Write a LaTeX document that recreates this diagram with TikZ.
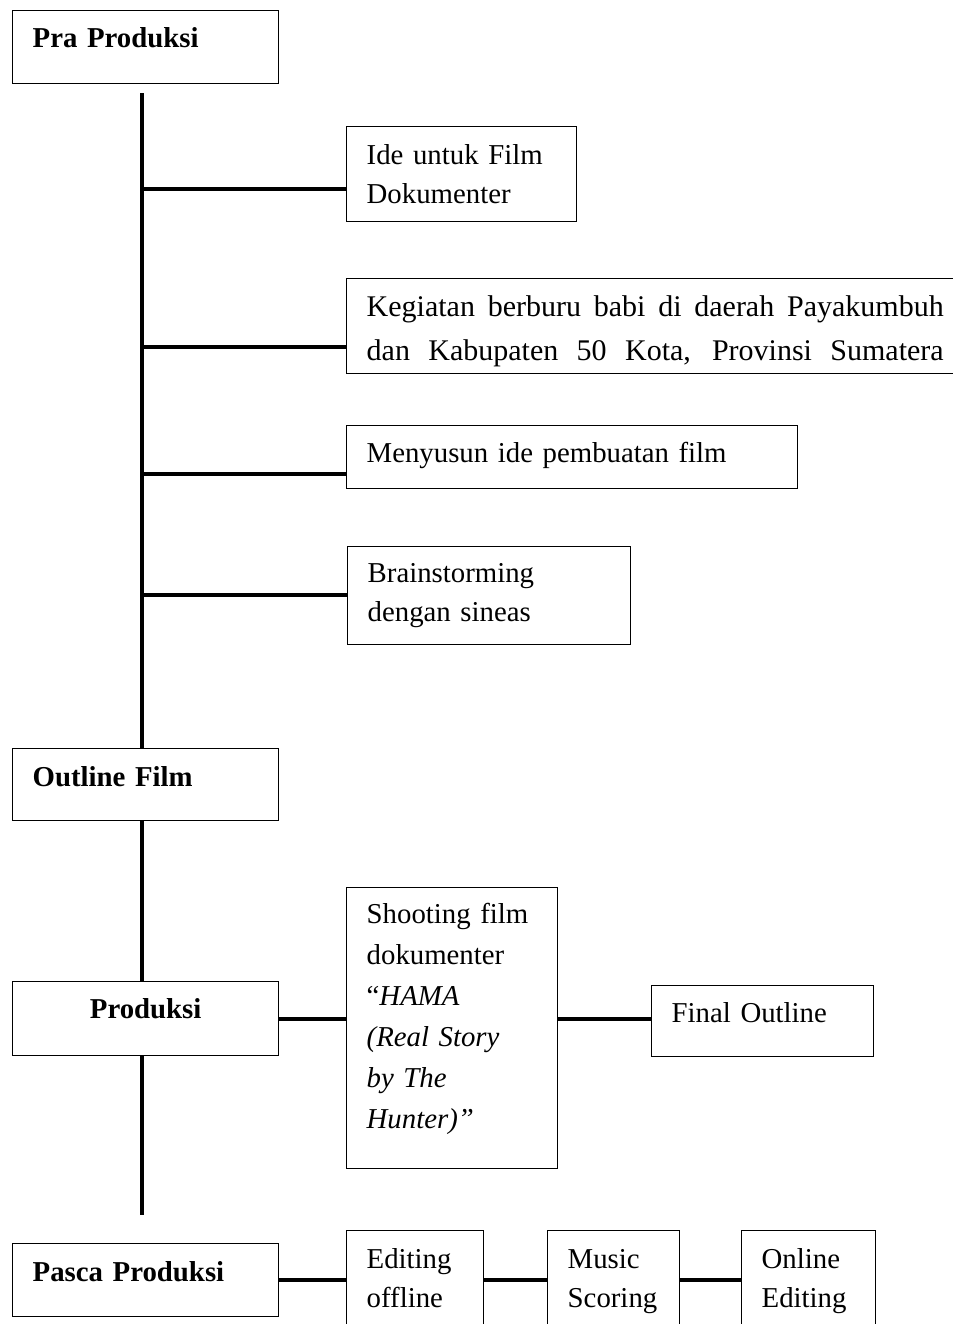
\documentclass[tikz,border=0pt]{standalone}
\usepackage{fontspec}
\setmainfont{Liberation Serif}
\begin{document}
\begin{tikzpicture}
[x=0.5pt,y=0.5pt,
 boxdecorate/.style={draw,line width=0.7pt,anchor=north west,inner xsep=10pt,inner ysep=0pt,
   align=left,font=\fontsize{14.4pt}{19.2pt}\selectfont},%
 linedecorate/.style={line width=2pt}]
\useasboundingbox (0,0) rectangle (953,-1324);
% nodes or boxes
\node (pra) at (12,-10) [boxdecorate,text width=113pt,text height=18.3pt,text depth=18.2pt] {\textbf{Pra Produksi}};
\node (ide) at (346,-126) [boxdecorate,text width=95pt,text height=19pt,text depth=28.5pt] {Ide untuk Film\\Dokumenter};
\node (kegiatan) at (346,-278) [boxdecorate,text width=292pt,text height=19pt,text depth=28.5pt,
  font=\fontsize{15pt}{22pt}\selectfont]
  {\makebox[288.5pt][s]{\spaceskip=0.25em plus 1em\relax Kegiatan berburu babi di daerah Payakumbuh}\\
   \makebox[288.5pt][s]{\spaceskip=0.25em plus 1em\relax dan Kabupaten 50 Kota, Provinsi Sumatera}};
\node (menyusun) at (346,-425) [boxdecorate,text width=205.5pt,text height=18.5pt,text depth=13pt] {Menyusun ide pembuatan film};
\node (brain) at (347,-546) [boxdecorate,text width=121.5pt,text height=18pt,text depth=31pt,
  font=\fontsize{14.4pt}{19.2pt}\selectfont] {Brainstorming\\dengan sineas};
\node (outline) at (12,-748) [boxdecorate,text width=113pt,text height=19pt,text depth=17pt] {\textbf{Outline Film}};
\node (produksi) at (12,-981) [boxdecorate,text width=113pt,text height=18.5pt,text depth=18.5pt,align=center] {\textbf{Produksi}};
\node (shooting) at (346,-887) [boxdecorate,text width=85.5pt,text height=18pt,text depth=122.5pt,
  font=\fontsize{14.4pt}{20.5pt}\selectfont]
  {Shooting film\\dokumenter\\“\textit{HAMA}\\\textit{(Real Story}\\\textit{by The}\\\textit{Hunter)”}};
\node (final) at (651,-985) [boxdecorate,text width=91pt,text height=18.5pt,text depth=17pt] {Final Outline};
\node (pasca) at (12,-1243) [boxdecorate,text width=113pt,text height=19pt,text depth=17.5pt] {\textbf{Pasca Produksi}};
\node (editing) at (346,-1230) [boxdecorate,text width=48.5pt,text height=19pt,text depth=46pt] {Editing\\offline};
\node (music) at (547,-1230) [boxdecorate,text width=46pt,text height=19pt,text depth=46pt] {Music\\Scoring};
\node (online) at (741,-1230) [boxdecorate,text width=47pt,text height=19pt,text depth=46pt] {Online\\Editing};
% points on the spine
\coordinate (sp1) at (142,-93);
\coordinate (sp2) at (142,-1215);
\coordinate (b1) at (142,-189);
\coordinate (b2) at (142,-347);
\coordinate (b3) at (142,-474);
\coordinate (b4) at (142,-595);
% edges or lines
\path
(sp1) edge[linedecorate] (outline.north -| sp1)
(outline.south -| sp1) edge[linedecorate] (produksi.north -| sp1)
(produksi.south -| sp1) edge[linedecorate] (sp2)
(b1) edge[linedecorate] (b1 -| ide.west)
(b2) edge[linedecorate] (b2 -| kegiatan.west)
(b3) edge[linedecorate] (b3 -| menyusun.west)
(b4) edge[linedecorate] (b4 -| brain.west)
(produksi.east) edge[linedecorate] (produksi.east -| shooting.west)
(produksi.east -| shooting.east) edge[linedecorate] (produksi.east -| final.west)
(pasca.east) edge[linedecorate] (pasca.east -| editing.west)
(pasca.east -| editing.east) edge[linedecorate] (pasca.east -| music.west)
(pasca.east -| music.east) edge[linedecorate] (pasca.east -| online.west);
\end{tikzpicture}
\end{document}
